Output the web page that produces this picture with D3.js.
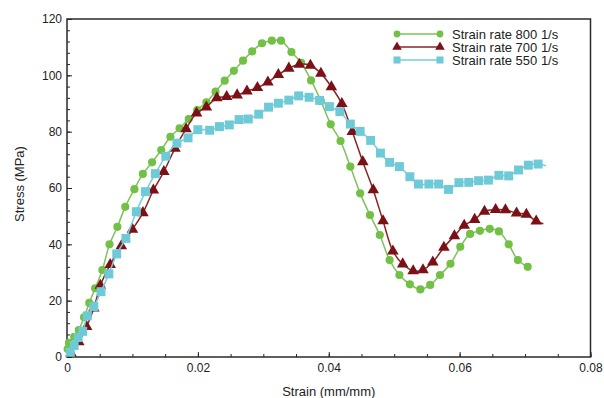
<!DOCTYPE html>
<html>
<head>
<meta charset="utf-8">
<script src="https://cdn.jsdelivr.net/npm/d3@7"></script>
<style>
  body { margin: 0; background: #fff; }
  text { font-family: "Liberation Sans", Arial, sans-serif; fill: #222; }
</style>
</head>
<body>
<div id="chart-area"></div>
<script>
// values
const strain800 = [0.0001, 0.0003, 0.0011, 0.0018, 0.0026, 0.0034, 0.0043, 0.0054, 0.0065, 0.0077,
  0.0089, 0.0103, 0.0116, 0.0130, 0.0144, 0.0158, 0.0172, 0.0186, 0.0199, 0.0213,
  0.0227, 0.0241, 0.0255, 0.0269, 0.0283, 0.0298, 0.0313, 0.0327, 0.0343, 0.0358,
  0.0373, 0.0388, 0.0403, 0.0418, 0.0433, 0.0448, 0.0463, 0.0478, 0.0493, 0.0508,
  0.0524, 0.0540, 0.0555, 0.0570, 0.0586, 0.0601, 0.0616, 0.0631, 0.0646, 0.0660,
  0.0675, 0.0689, 0.0704];
const stress800 = [2.8, 5.0, 7.2, 9.6, 14.1, 19.2, 24.4, 30.9, 40.0, 46.2,
  53.3, 59.6, 65.0, 69.1, 73.5, 78.2, 81.2, 84.5, 87.7, 90.4,
  94.2, 98.1, 101.6, 105.2, 108.5, 111.4, 112.3, 112.3, 108.3, 104.4,
  98.2, 90.9, 82.6, 76.7, 67.6, 58.1, 50.4, 43.3, 34.4, 29.1,
  25.8, 24.0, 25.6, 29.1, 33.1, 39.1, 43.7, 44.8, 45.5, 44.6,
  40.0, 34.4, 32.0];

const strain700 = [0.0006, 0.0018, 0.0030, 0.0041, 0.0051, 0.0066, 0.0083, 0.0100, 0.0116, 0.0132,
  0.0148, 0.0165, 0.0182, 0.0198, 0.0213, 0.0229, 0.0244, 0.0260, 0.0275, 0.0291,
  0.0307, 0.0323, 0.0339, 0.0355, 0.0372, 0.0388, 0.0404, 0.0420, 0.0436, 0.0452,
  0.0468, 0.0483, 0.0498, 0.0513, 0.0529, 0.0544, 0.0559, 0.0576, 0.0592, 0.0607,
  0.0623, 0.0638, 0.0655, 0.0670, 0.0687, 0.0702, 0.0717, 0.0728];
const stress700 = [1.4, 5.4, 10.8, 17.3, 25.4, 32.8, 39.4, 45.3, 51.2, 59.2,
  65.8, 74.1, 81.0, 86.6, 88.7, 92.0, 92.4, 93.0, 94.4, 95.6,
  97.6, 100.2, 102.5, 103.9, 103.5, 100.7, 95.9, 89.9, 80.0, 69.3,
  59.3, 48.3, 37.6, 33.0, 30.6, 30.9, 33.7, 38.9, 43.0, 46.7,
  48.8, 51.7, 52.3, 52.2, 51.1, 50.6, 48.2, 47.3];

const strain550 = [0.0005, 0.0011, 0.0017, 0.0024, 0.0031, 0.0041, 0.0052, 0.0064, 0.0076, 0.0090,
  0.0106, 0.0120, 0.0135, 0.0151, 0.0168, 0.0185, 0.0200, 0.0218, 0.0233, 0.0248,
  0.0263, 0.0277, 0.0293, 0.0308, 0.0323, 0.0339, 0.0354, 0.0370, 0.0386, 0.0401,
  0.0417, 0.0433, 0.0448, 0.0464, 0.0479, 0.0493, 0.0508, 0.0524, 0.0537, 0.0553,
  0.0568, 0.0583, 0.0599, 0.0614, 0.0629, 0.0644, 0.0660, 0.0675, 0.0690, 0.0705,
  0.0720, 0.0732];
const stress550 = [1.7, 4.1, 6.9, 9.1, 14.6, 17.9, 23.2, 29.5, 36.6, 42.1,
  51.6, 58.7, 65.1, 71.3, 75.9, 77.8, 80.7, 80.5, 81.8, 82.4,
  84.3, 84.5, 86.2, 88.7, 90.1, 91.2, 92.7, 92.2, 91.1, 88.9,
  87.1, 82.7, 80.1, 76.9, 72.4, 69.1, 67.6, 64.0, 61.4, 61.4,
  61.4, 59.5, 61.9, 62.0, 62.6, 62.8, 64.5, 64.3, 66.4, 68.1,
  68.5, 67.9];

const seriesNames = ["Strain rate 800 1/s", "Strain rate 700 1/s", "Strain rate 550 1/s"];
const xTicks = [0, 0.02, 0.04, 0.06, 0.08];
const yTicks = [0, 20, 40, 60, 80, 100, 120];

const MARGIN = { LEFT: 67, RIGHT: 13.5, TOP: 19, BOTTOM: 41 };
const WIDTH = 604 - MARGIN.LEFT - MARGIN.RIGHT;
const HEIGHT = 398 - MARGIN.TOP - MARGIN.BOTTOM;

const svg = d3.select("#chart-area").append("svg")
  .attr("width", WIDTH + MARGIN.LEFT + MARGIN.RIGHT)
  .attr("height", HEIGHT + MARGIN.TOP + MARGIN.BOTTOM);

const g = svg.append("g")
  .attr("transform", `translate(${MARGIN.LEFT}, ${MARGIN.TOP})`);

const x = d3.scaleLinear().domain([0, 0.08]).range([0, WIDTH]);
const y = d3.scaleLinear().domain([0, 120]).range([HEIGHT, 0]);

// series table; the last point of 700 and 550 is a bare line end
const series = [
  { name: seriesNames[0], xs: strain800, ys: stress800, line: "#7cc35a", fill: "#72c046", shape: d3.symbolCircle, size: 52, legSize: 36, tail: false },
  { name: seriesNames[1], xs: strain700, ys: stress700, line: "#8a2424", fill: "#7b1116", shape: d3.symbolTriangle, size: 58, legSize: 40, tail: true },
  { name: seriesNames[2], xs: strain550, ys: stress550, line: "#76cedb", fill: "#6ecad7", shape: d3.symbolSquare, size: 80, legSize: 50, tail: true }
].map(s => ({ ...s, pts: s.xs.map((v, i) => ({ x: v, y: s.ys[i] })) }));

// minor ticks
g.append("g")
  .attr("transform", `translate(0, ${HEIGHT})`)
  .call(d3.axisBottom(x).tickValues(d3.range(0, 0.0801, 0.005)).tickSize(-3).tickFormat(""))
  .call(a => a.select(".domain").remove());
g.append("g")
  .call(d3.axisLeft(y).tickValues(d3.range(0, 121, 4)).tickSize(-3).tickFormat(""))
  .call(a => a.select(".domain").remove());

// major ticks
const xAxis = g.append("g")
  .attr("transform", `translate(0, ${HEIGHT})`)
  .call(d3.axisBottom(x).tickValues(xTicks).tickSizeInner(-5).tickSizeOuter(0).tickPadding(6)
    .tickFormat(d => d === 0 ? "0" : d3.format(".2f")(d)));
const yAxis = g.append("g")
  .call(d3.axisLeft(y).tickValues(yTicks).tickSizeInner(-5).tickSizeOuter(0).tickPadding(5));

[xAxis, yAxis].forEach(a => {
  a.select(".domain").remove();
  a.selectAll("text").style("font-size", "12px").attr("fill", "#222");
});
g.selectAll(".tick line").attr("stroke", "#222");

// frame
g.append("rect")
  .attr("width", WIDTH).attr("height", HEIGHT)
  .attr("fill", "none").attr("stroke", "#2a2a2a").attr("stroke-width", 1.5);

// axis titles
svg.append("text")
  .attr("x", MARGIN.LEFT + WIDTH / 2).attr("y", 396)
  .attr("text-anchor", "middle").style("font-size", "13px")
  .text("Strain (mm/mm)");
svg.append("text")
  .attr("transform", `translate(24, ${MARGIN.TOP + HEIGHT / 2 - 4}) rotate(-90)`)
  .attr("text-anchor", "middle").style("font-size", "13px")
  .text("Stress (MPa)");

const line = d3.line()
  .x(d => x(d.x)).y(d => y(d.y))
  .curve(d3.curveCatmullRom.alpha(0.5));

series.forEach(s => {
  const sg = g.append("g");
  sg.append("path")
    .attr("d", line(s.pts))
    .attr("fill", "none").attr("stroke", s.line).attr("stroke-width", 1.5);
  sg.selectAll("path.mark")
    .data(s.tail ? s.pts.slice(0, -1) : s.pts)
    .enter().append("path")
    .attr("class", "mark")
    .attr("transform", d => `translate(${x(d.x)}, ${y(d.y)})`)
    .attr("d", d3.symbol().type(s.shape).size(s.size))
    .attr("fill", s.fill);
});

// legend
const legend = svg.append("g").attr("transform", "translate(397, 34)");
series.forEach((s, i) => {
  const row = legend.append("g").attr("transform", `translate(0, ${i * 13})`);
  row.append("line").attr("x1", 0).attr("x2", 43)
    .attr("stroke", s.line).attr("stroke-width", 1.5);
  [0, 43].forEach(px => row.append("path")
    .attr("transform", `translate(${px}, 0)`)
    .attr("d", d3.symbol().type(s.shape).size(s.legSize))
    .attr("fill", s.fill));
  row.append("text").attr("x", 55).attr("y", 4.5)
    .style("font-size", "13px").text(s.name);
});
</script>
</body>
</html>
